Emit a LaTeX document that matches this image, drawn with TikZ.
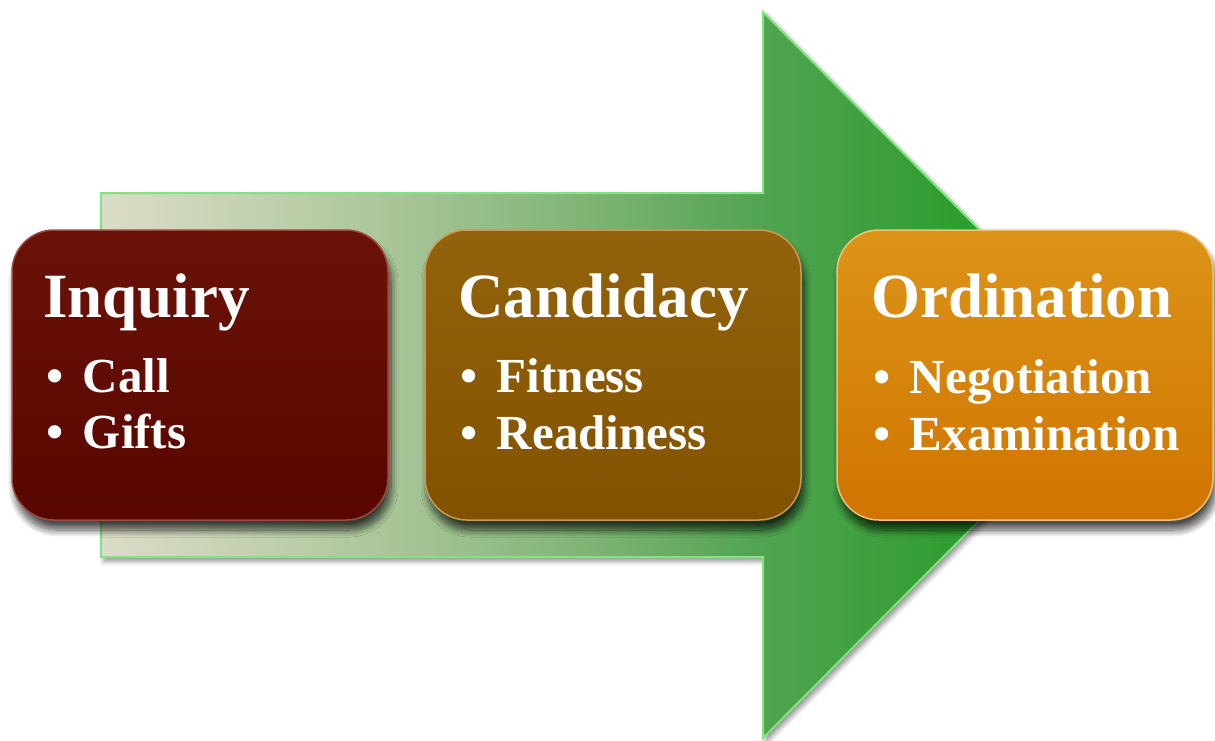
\documentclass[tikz,border=0pt]{standalone}
\usepackage{fontspec}
\setmainfont{Liberation Serif}
\usetikzlibrary{shadows.blur}
\definecolor{arA}{HTML}{DCDCC8}
\definecolor{arB}{HTML}{C4D2B0}
\definecolor{arC}{HTML}{A6C496}
\definecolor{arD}{HTML}{7EB474}
\definecolor{arE}{HTML}{52A452}
\definecolor{arF}{HTML}{2C9C2C}
\definecolor{arG}{HTML}{24962A}
\definecolor{arRim}{HTML}{86E086}
\definecolor{inqT}{HTML}{6A1208}
\definecolor{inqB}{HTML}{580600}
\definecolor{inqR}{HTML}{9A4A40}
\definecolor{canT}{HTML}{93620C}
\definecolor{canB}{HTML}{825200}
\definecolor{canR}{HTML}{C89A58}
\definecolor{ordT}{HTML}{DC9418}
\definecolor{ordB}{HTML}{D07400}
\definecolor{ordR}{HTML}{F2C07A}
\pgfdeclarehorizontalshading{arrowshade}{100bp}{color(0bp)=(arA); color(25bp)=(arA); color(32bp)=(arB); color(40bp)=(arC); color(49bp)=(arD); color(57bp)=(arE); color(68bp)=(arF); color(75bp)=(arG); color(100bp)=(arG)}
\tikzset{
  stagebox/.style={rounded corners=42pt, minimum width=376pt, minimum height=290pt,
    line width=1.5pt, inner sep=0pt,
    blur shadow={shadow xshift=3pt, shadow yshift=-10pt, shadow blur radius=7pt, shadow blur steps=12, shadow opacity=70}},
  titletxt/.style={anchor=base west, inner sep=0pt, text=white, font=\fontsize{63}{63}\selectfont\bfseries},
  itemtxt/.style={anchor=base west, inner sep=0pt, text=white, font=\fontsize{49}{49}\selectfont\bfseries}
}
\newcommand{\itm}[1]{\textbullet\hspace{0.4em}#1}
\begin{document}
\begin{tikzpicture}[x=1pt,y=-1pt]
\useasboundingbox (0,0) rectangle (1215,740);
% big arrow
\path[shading=arrowshade, draw=arRim, line width=2pt, line join=miter,
  blur shadow={shadow xshift=3pt, shadow yshift=-4pt, shadow blur radius=5pt, shadow opacity=45}]
  (101,193) -- (763,193) -- (763,12) -- (1124,375) -- (763,738) -- (763,557) -- (101,557) -- cycle;
% boxes
\node[stagebox, top color=inqT, bottom color=inqB, draw=inqR] (inq) at (200,375) {};
\node[stagebox, top color=canT, bottom color=canB, draw=canR] (can) at (613,375) {};
\node[stagebox, top color=ordT, bottom color=ordB, draw=ordR] (ord) at (1025,375) {};
% Inquiry texts
\node[titletxt] (inqt) at (43,317) {Inquiry};
\node[itemtxt] (inq1) at (46,392) {\itm{Call}};
\node[itemtxt] (inq2) at (46,448) {\itm{Gifts}};
% Candidacy texts
\node[titletxt] (cant) at (458,317) {Candidacy};
\node[itemtxt] (can1) at (460,392) {\itm{Fitness}};
\node[itemtxt] (can2) at (460,449) {\itm{Readiness}};
% Ordination texts
\node[titletxt] (ordt) at (871,317) {Ordination};
\node[itemtxt] (ord1) at (873,393) {\itm{Negotiation}};
\node[itemtxt] (ord2) at (873,450) {\itm{Examination}};
\end{tikzpicture}
\end{document}
